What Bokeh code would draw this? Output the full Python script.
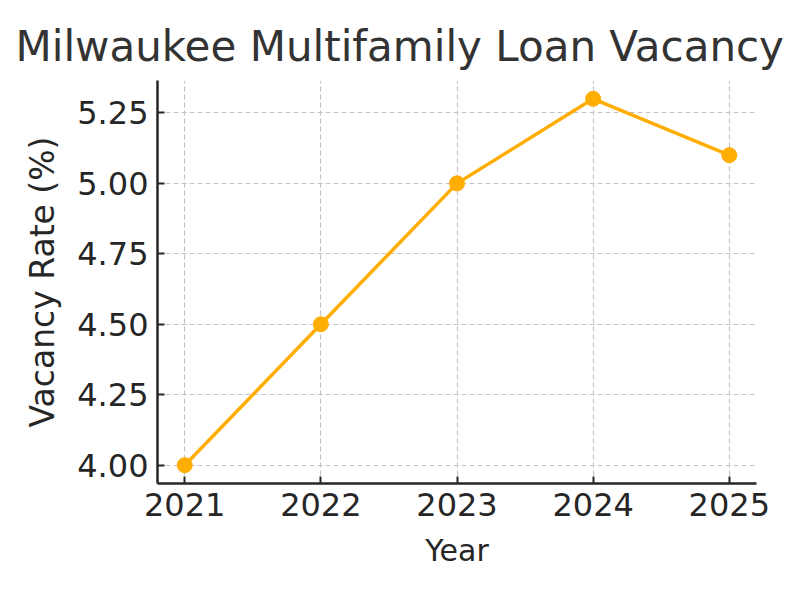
from bokeh.plotting import figure
from bokeh.models import FixedTicker, Range1d, NumeralTickFormatter, Title
from bokeh.embed import file_html
from bokeh.resources import INLINE

years = [2021, 2022, 2023, 2024, 2025]
vacancy = [4.00, 4.50, 5.00, 5.30, 5.10]
y_ticks = [4.00, 4.25, 4.50, 4.75, 5.00, 5.25]
title_text = "Milwaukee Multifamily Loan Vacancy"
x_label = "Year"
y_label = "Vacancy Rate (%)"

FONT = "DejaVu Sans"
LINE_COLOR = "#FFAD00"

p = figure(width=784, height=584, output_backend="svg", toolbar_location=None,
           x_range=Range1d(2020.8, 2025.2), y_range=Range1d(3.935, 5.365),
           min_border_left=157, min_border_right=28, min_border_top=80, min_border_bottom=101)

p.title = Title(text=title_text, align="left", text_font=FONT, text_font_size="42px",
                text_font_style="normal", text_color="#333333", offset=-142, standoff=20)

p.line(years, vacancy, line_color=LINE_COLOR, line_width=3.5)
p.scatter(years, vacancy, size=15, fill_color=LINE_COLOR, line_color=LINE_COLOR)

p.outline_line_color = None
p.background_fill_color = "white"
p.border_fill_color = "white"

for ax in (p.xaxis[0], p.yaxis[0]):
    ax.axis_line_width = 2.5
    ax.axis_line_color = "#262626"
    ax.major_tick_in = 7
    ax.major_tick_out = 0
    ax.major_tick_line_width = 2
    ax.major_tick_line_color = "#262626"
    ax.minor_tick_line_color = None
    ax.major_label_text_font = FONT
    ax.major_label_text_font_size = "32px"
    ax.major_label_text_color = "#262626"
    ax.axis_label_text_font = FONT
    ax.axis_label_text_font_style = "normal"
    ax.axis_label_text_color = "#262626"
    ax.major_label_standoff = 9

p.xaxis.ticker = FixedTicker(ticks=years)
p.yaxis.ticker = FixedTicker(ticks=y_ticks)
p.yaxis.formatter = NumeralTickFormatter(format="0.00")
p.xaxis.axis_label = x_label
p.yaxis.axis_label = y_label
p.xaxis.axis_label_text_font_size = "30px"
p.yaxis.axis_label_text_font_size = "33px"
p.xaxis.axis_label_standoff = 14
p.yaxis.axis_label_standoff = 12

for g in (p.xgrid[0], p.ygrid[0]):
    g.grid_line_color = "#c4c4c4"
    g.grid_line_dash = "5 3"
    g.grid_line_width = 1.2

open("out.html", "w").write(file_html(p, INLINE))
